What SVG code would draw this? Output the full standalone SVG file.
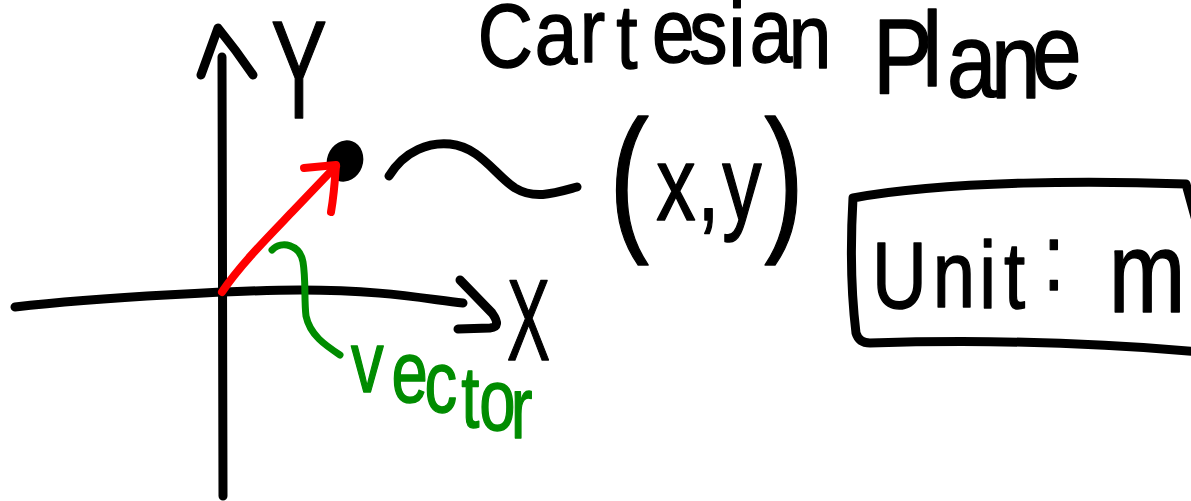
<svg xmlns="http://www.w3.org/2000/svg" width="1191" height="501" viewBox="0 0 1191 501">
<style>
.ink{fill:none;stroke:#000;stroke-width:9;stroke-linecap:round;stroke-linejoin:round}
.red{fill:none;stroke:#ff0000;stroke-width:8;stroke-linecap:round;stroke-linejoin:round}
.green{fill:none;stroke:#008c00;stroke-width:7;stroke-linecap:round;stroke-linejoin:round}
.hand{font-family:"Liberation Sans",Arial,sans-serif;fill:#000;stroke:#000;stroke-width:1.5;stroke-linejoin:round}
.hand-green{font-family:"Liberation Sans",Arial,sans-serif;fill:#008c00;stroke:#008c00;stroke-width:1.5;stroke-linejoin:round}
</style>
<rect width="1191" height="501" fill="#fff"/>

<g id="axes">
  <path class="ink" d="M222,57 C223,150 222,320 223,496"/>
  <path class="ink" d="M201,75 L218,28 Q236,50 253,75"/>
  <path class="ink" d="M15,307 C100,297 250,290 300,290 C380,290 420,298 463,303"/>
  <path class="ink" d="M460,280 L492,313 Q502,327 490,328 L458,329"/>
</g>

<g id="y-label">
  <text class="hand" font-size="140" transform="translate(271,118) scale(0.6,1)">Y</text>
</g>

<g id="x-label">
  <text class="hand" font-size="115" transform="translate(507,360) scale(0.56,1)">X</text>
</g>

<g id="title">
  <text class="hand" font-size="90" transform="scale(0.85,1)"><tspan x="562 629 682 725 767 811 857 882 928" y="67 64 62 68 62 63 66 62 68">Cartesian</tspan> <tspan font-size="105" x="1027 1085 1114 1166 1214" y="93 86 97 98 88">Plane</tspan></text>
</g>

<g id="point">
  <ellipse cx="345" cy="161" rx="18" ry="21" transform="rotate(20 345 161)" fill="#000"/>
</g>

<g id="coords-label">
  <text class="hand" transform="scale(0.75,1)"><tspan x="812" y="232" font-size="160">(</tspan><tspan x="875" y="220" font-size="105">x</tspan><tspan x="930" y="220" font-size="105">,</tspan><tspan x="963" y="220" font-size="105">y</tspan><tspan x="1019" y="232" font-size="160">)</tspan></text>
</g>

<g id="unit-box">
  <path class="ink" d="M1200,235 L1186,184 C1100,181 950,180 853,198 C850,250 852,300 856,333 Q859,343 870,343 C1000,339 1100,343 1200,352"/>
  <text class="hand" font-size="95" transform="scale(0.8,1)"><tspan x="1090 1166 1224 1255 1304" y="308 307 308 308 290">Unit:</tspan> <tspan x="1386" y="312" font-size="115">m</tspan></text>
</g>

<g id="vector-label">
  <text class="hand-green" font-size="87" transform="scale(0.75,1)"><tspan x="468 522 566 615 639 681" y="392 402 412 427 430 438">vector</tspan></text>
</g>

<g id="connectors">
  <path class="red" d="M222,292 C240,265 270,235 292,212 L336,166"/>
  <path class="red" d="M304,168 L336,165 Q334,195 331,212"/>
  <path class="ink" d="M389,176 C405,150 430,142 450,144 C480,147 495,175 515,188 C535,200 555,193 577,187"/>
  <path class="green" d="M272,250 C282,240 300,245 303,262 C306,280 304,300 306,316 C310,335 325,345 340,355"/>
</g>
</svg>
